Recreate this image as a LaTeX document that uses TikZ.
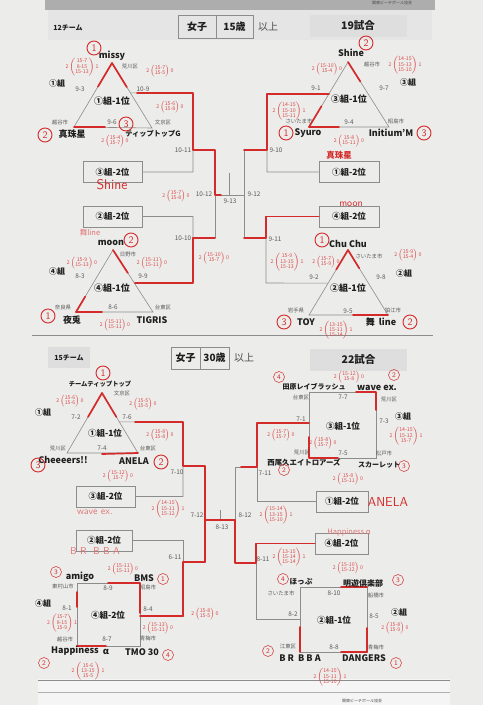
\documentclass[tikz,border=0pt]{standalone}
\usepackage{fontspec}
\setmainfont{Noto Sans CJK JP}
\usetikzlibrary{calc}
\definecolor{paper}{HTML}{ECECEA}
\definecolor{lnc}{HTML}{8C8C8C}
\definecolor{rd}{HTML}{D42A2A}
\definecolor{pk}{HTML}{E07474}
\definecolor{tx}{HTML}{1E1E1E}
\definecolor{cty}{HTML}{5A5A5A}
\newcounter{nn}
\newcommand\lbl[4][team]{\stepcounter{nn}\node[#1] (n\arabic{nn}) at (#2,#3) {#4};}
\newcommand\rcirc[4][rc]{\stepcounter{nn}\node[#1] (n\arabic{nn}) at (#2,#3) {#4};}
\newcommand\hscore[5]{\stepcounter{nn}\node[hw] (n\arabic{nn}) at (#1,#2) {#3\,$\left(\begin{tabular}{@{}c@{}}#4\end{tabular}\right)$\,#5};}
\begin{document}
\begin{tikzpicture}[x=1pt,y=-1pt,
  ln/.style={draw=lnc, line width=0.6pt},
  rl/.style={draw=rd, line width=1.7pt, line cap=round, line join=round},
  team/.style={font=\fontsize{9}{10}\selectfont\bfseries, text=tx, inner sep=0pt},
  teamj/.style={font=\fontsize{7.2}{8}\selectfont\bfseries, text=tx, inner sep=0pt},
  grp/.style={font=\fontsize{8}{9}\selectfont\bfseries, text=tx, inner sep=0pt},
  grpl/.style={font=\fontsize{9}{10}\selectfont\bfseries, text=tx, inner sep=0pt},
  city/.style={font=\fontsize{5.4}{6}\selectfont, text=cty, inner sep=0pt},
  mt/.style={font=\fontsize{6.4}{7}\selectfont, text=cty, inner sep=0pt},
  gb/.style={draw=lnc, line width=0.6pt, fill=paper, font=\fontsize{8.5}{9}\selectfont\bfseries, text=tx, minimum height=21pt, inner sep=0pt},
  hbox/.style={draw=lnc, line width=0.6pt, font=\fontsize{10}{11}\selectfont\bfseries, text=tx, minimum height=23pt, inner sep=0pt},
  gbox/.style={fill=black!13, font=\fontsize{10.5}{11}\selectfont\bfseries, text=tx, minimum height=22pt, inner sep=0pt},
  hw/.style={text=rd!85, font=\fontsize{5.2}{5.6}\selectfont, inner sep=0pt},
  rc/.style={circle, draw=rd, text=rd, line width=0.9pt, inner sep=0pt, minimum size=14pt, font=\sffamily\fontsize{10}{10}\selectfont},
  rcs/.style={circle, draw=rd, text=rd, line width=0.5pt, inner sep=0pt, minimum size=11pt, font=\sffamily\fontsize{7}{7}\selectfont},
  rtx/.style={text=rd, font=\sffamily\fontsize{12}{12}\selectfont, inner sep=0pt},
  ptx/.style={text=pk, font=\sffamily\fontsize{9}{9}\selectfont, inner sep=0pt}
]
\renewcommand\arraystretch{0.85}
\useasboundingbox (0,0) rectangle (483,705);
\fill[paper] (0,0) rectangle (483,705);
% clips (photo)
\fill[black!10] (48,10) rectangle (432,40);
\fill[black!32] (45,0) rectangle (435,10);
\fill[black!4] (38,679) rectangle (450,705);
\draw[black!45, line width=1pt] (38,680) -- (450,680);
\draw[black!30, line width=0.8pt] (38,692) -- (450,692);
\node[font=\fontsize{4}{4}\selectfont, text=black!70, inner sep=0pt] (clipb) at (362,701) {関東ビーチボール協会};
\node[font=\fontsize{4}{4}\selectfont, text=black!70, inner sep=0pt] (clipt) at (392,3) {関東ビーチボール協会};

%================ TOP : 女子 15歳 以上 =================
\lbl[grp]{68}{28}{\fontsize{7}{8}\selectfont 12チーム}
\node[hbox, minimum width=38pt] (h1) at (197,26.5) {女子};
\node[hbox, minimum width=37pt] (h2) at (234.5,26.5) {15歳};
\lbl[grpl]{268}{27}{\mdseries\fontsize{10}{11}\selectfont\color{black!70}以上}
\node[gbox, minimum width=97pt] (h3) at (358,26) {19試合};

% group 1 (top-left)
\coordinate (A1) at (112,63); \coordinate (B1) at (74,127); \coordinate (C1) at (152,128);
\draw[ln] (A1) -- (B1) -- (C1) -- cycle;
% group 4 (top-left lower)
\coordinate (A4) at (113,250); \coordinate (B4) at (76,312); \coordinate (C4) at (153,312);
\draw[ln] (A4) -- (B4) -- (C4) -- cycle;
% group 3 (top-right)
\coordinate (A3) at (348,62); \coordinate (B3) at (309,127); \coordinate (C3) at (389,127);
\draw[ln] (A3) -- (B3) -- (C3) -- cycle;
% group 2 (top-right lower)
\coordinate (A2) at (348,250); \coordinate (B2) at (309,315); \coordinate (C2) at (388,315);
\draw[ln] (A2) -- (B2) -- (C2) -- cycle;

\node[gb, minimum width=59pt] (t32) at (112.5,172) {③組-2位};
\node[gb, minimum width=59pt] (t22) at (112.5,216.5) {②組-2位};
\node[gb, minimum width=60pt] (t12) at (349,172) {①組-2位};
\node[gb, minimum width=60pt] (t42) at (349,216.5) {④組-2位};

% bracket lines top
\coordinate (p1) at ($(A1)!0.46!(C1)$);
\coordinate (p4) at ($(A4)!0.53!(C4)$);
\coordinate (p3) at ($(A3)!0.49!(B3)$);
\coordinate (p2) at ($(A2)!0.51!(B2)$);
\draw[ln] (p1) -- (193,93) -- (193,172) -- (t32.east);
\draw[ln] (193,150) -- (215,150);
\draw[ln] (p4) -- (193,283) -- (193,216.5) -- (t22.east);
\draw[ln] (193,238) -- (215,238);
\draw[ln] (215,150) -- (215,238);
\draw[ln] (215,195) -- (244,195);
\draw[ln] (229,173) -- (229,195);
\draw[ln] (244,150) -- (244,238);
\draw[ln] (244,150) -- (267,150);
\draw[ln] (p3) -- (267,94) -- (267,172) -- (t12.west);
\draw[ln] (244,238) -- (266,238);
\draw[ln] (t42.west) -- (266,216.5) -- (266,283) -- (p2);

% red top
\draw[rl] (137,93) -- (193,93) -- (193,150) -- (215,150) -- (215,195) -- (221,195);
\draw[rl] (135,283) -- (193,283) -- (193,238) -- (215,238);
\draw[rl] (329,94) -- (267,94) -- (267,150) -- (244,150);
\draw[rl] (t42.west) -- (266,216.5) -- (266,238) -- (244,238);
\draw[rl] (A1) -- ($(A1)!0.37!(B1)$);
\draw[rl] (A1) -- ($(A1)!0.37!(C1)$);
\draw[rl] (B1) -- (105,127);
\draw[rl] (A4) -- ($(A4)!0.37!(C4)$);
\draw[rl] (B4) -- ($(B4)!0.25!(A4)$);
\draw[rl] (B4) -- (102,312);
\draw[rl] (A3) -- ($(A3)!0.3!(C3)$);
\draw[rl] (B3) -- ($(B3)!0.32!(A3)$);
\draw[rl] (B3) -- (339,127);
\draw[rl] (A2) -- ($(A2)!0.3!(B2)$);
\draw[rl] (A2) -- ($(A2)!0.28!(C2)$);
\draw[rl] (353,315) -- (C2);

% labels top-left group 1
\lbl{112}{56}{missy}
\lbl[grpl]{112}{101}{①組-1位}
\lbl[grp]{57}{83}{①組}
\lbl[mt]{80}{89}{9-3}
\lbl[city]{130}{66}{荒川区}
\lbl[mt]{143}{89}{10-9}
\lbl[city]{60}{122}{越谷市}
\lbl[mt]{112}{122}{9-6}
\lbl[city]{163}{122}{文京区}
\lbl{72}{134}{真珠星}
\lbl[teamj]{153}{134}{ティップトップG}
\lbl[mt]{183}{150}{10-11}
% group 4
\lbl{111}{243}{moon}
\lbl[grpl]{112}{288}{④組-1位}
\lbl[grp]{57}{271}{④組}
\lbl[mt]{80}{276}{8-3}
\lbl[city]{128}{254}{日野市}
\lbl[mt]{143}{276}{9-9}
\lbl[city]{63}{307}{奈良県}
\lbl[mt]{113}{307}{8-6}
\lbl[city]{163}{307}{台東区}
\lbl{72}{320}{夜兎}
\lbl{152}{320}{TIGRIS}
\lbl[mt]{183}{238}{10-10}
\lbl[mt]{204}{194}{10-12}
\lbl[mt]{230}{201}{9-13}
\lbl[mt]{254}{194}{9-12}
\lbl[mt]{276}{150}{9-10}
\lbl[mt]{275}{239}{9-11}
% group 3
\lbl{351}{53}{Shine}
\lbl[city]{372}{64}{越谷市}
\lbl[mt]{316}{88}{9-1}
\lbl[mt]{384}{88}{9-7}
\lbl[grp]{408}{82}{③組}
\lbl[grpl]{349}{99}{③組-1位}
\lbl[city]{299}{121}{さいたま市}
\lbl[mt]{349}{122}{9-4}
\lbl[city]{396}{121}{昭島市}
\lbl{308}{133}{Syuro}
\lbl{391}{133}{Initium’M}
% group 2
\lbl{348}{244}{Chu Chu}
\lbl[city]{369}{256}{さいたま市}
\lbl[mt]{314}{277}{9-2}
\lbl[mt]{381}{277}{9-8}
\lbl[grp]{404}{273}{②組}
\lbl[grpl]{348}{288}{②組-1位}
\lbl[city]{296}{310}{岩手県}
\lbl[mt]{348}{311}{9-5}
\lbl[city]{393}{310}{狛江市}
\lbl{306}{322}{TOY}
\lbl{381}{322}{舞\ \ line}

% separator
\draw[ln] (32,335) -- (433,335);

%================ BOTTOM : 女子 30歳 以上 =================
\node[fill=black!13, minimum width=42pt, minimum height=21pt, inner sep=0pt, font=\fontsize{7}{8}\selectfont\bfseries, text=tx] (b0) at (69,357.5) {15チーム};
\node[hbox, minimum width=29pt, minimum height=22pt] (g1) at (185.5,358) {女子};
\node[hbox, minimum width=29pt, minimum height=22pt] (g2) at (214.5,358) {30歳};
\lbl[grpl]{244}{358}{\mdseries\fontsize{10}{11}\selectfont\color{black!70}以上}
\node[gbox, minimum width=97pt] (g3) at (358.5,360) {22試合};

% group 1 lower triangle
\coordinate (L1) at (102,393); \coordinate (L2) at (67,453); \coordinate (L3) at (138,453);
\draw[ln] (L1) -- (L2) -- (L3) -- cycle;
% squares
\draw[ln] (77,583) rectangle (140,646);   % group 4
\draw[ln] (309,392) rectangle (376,458);  % group 3
\draw[ln] (300,587) rectangle (367,652);  % group 2
\coordinate (S4r) at (140,616);
\coordinate (S3l) at (309,423);
\coordinate (S2l) at (300,619);

\node[gb, minimum width=59pt] (u32) at (105.5,496.5) {③組-2位};
\node[gb, minimum width=56pt] (u22) at (104,540.5) {②組-2位};
\node[gb, minimum width=52pt] (u12) at (342,501.5) {①組-2位};
\node[gb, minimum width=53pt] (u42) at (341.5,543.5) {④組-2位};

\coordinate (q1) at ($(L1)!0.48!(L3)$);
\draw[ln] (q1) -- (183,422) -- (183,496.5) -- (u32.east);
\draw[ln] (183,466) -- (205,466) -- (205,562);
\draw[ln] (u22.east) -- (183,540.5) -- (183,616) -- (S4r);
\draw[ln] (183,562) -- (205,562);
\draw[ln] (205,520) -- (235,520);
\draw[ln] (220,510) -- (220,520);
\draw[ln] (235,467) -- (235,563);
\draw[ln] (235,467) -- (257,467);
\draw[ln] (S3l) -- (257,423) -- (257,501.5) -- (u12.west);
\draw[ln] (235,563) -- (256,563);
\draw[ln] (u42.west) -- (256,543.5) -- (256,619) -- (S2l);

% red bottom
\draw[rl] (135,422) -- (183,422) -- (183,466) -- (205,466) -- (205,562);
\draw[rl] (S4r) -- (183,616) -- (183,562) -- (205,562);
\draw[rl] (205,520) -- (235,520) -- (235,563) -- (256,563) -- (256,543.5) -- (u42.west);
\draw[rl] (S3l) -- (257,423) -- (257,467) -- (241,467);
\draw[rl] (L1) -- ($(L1)!0.4!(L2)$);
\draw[rl] (L1) -- ($(L1)!0.4!(L3)$);
\draw[rl] (102,454) -- (L3);
\draw[rl] (108,583) -- (140,583) -- (140,613);
\draw[rl] (77,592) -- (77,607);
\draw[rl] (77,646) -- (106,646);
\draw[rl] (356,392) -- (376,392) -- (376,410);
\draw[rl] (309,437) -- (309,458) -- (338,458);
\draw[rl] (341,587) -- (367,587);
\draw[rl] (300,627) -- (300,652);
\draw[rl] (341,652) -- (367,652) -- (367,628);

% labels group 1 lower
\lbl[teamj]{100}{384}{\fontsize{6.3}{7}\selectfont チームティップトップ}
\lbl[city]{122}{393}{文京区}
\lbl[grp]{43}{412}{①組}
\lbl[mt]{76}{417}{7-2}
\lbl[mt]{127}{417}{7-6}
\lbl[grpl]{105}{433}{\fontsize{8.5}{9}\selectfont ①組-1位}
\lbl[city]{58}{448}{荒川区}
\lbl[mt]{102}{448}{7-4}
\lbl[city]{148}{448}{台東区}
\lbl{63}{460}{Cheeeers!!}
\lbl{134}{461}{ANELA}
\lbl[mt]{177}{472}{7-10}
\lbl[mt]{197}{515}{7-12}
\lbl[mt]{222}{527}{8-13}
\lbl[mt]{245}{515}{8-12}
\lbl[mt]{175}{557}{6-11}
% group 4 lower
\lbl{80}{577}{amigo}
\lbl{144}{578}{BMS}
\lbl[city]{63}{586}{東村山市}
\lbl[mt]{108}{588}{8-9}
\lbl[city]{148}{587}{昭島市}
\lbl[grp]{43}{603}{④組}
\lbl[mt]{67}{608}{8-1}
\lbl[grpl]{108}{615}{\fontsize{8.5}{9}\selectfont ④組-2位}
\lbl[mt]{148}{609}{8-4}
\lbl[city]{65}{639}{越谷市}
\lbl[mt]{107}{639}{8-7}
\lbl[city]{148}{638}{青梅市}
\lbl{75}{651}{Happiness}
\lbl{106}{652}{α}
\lbl{142}{652}{TMO 30}
% group 3 lower
\lbl[teamj]{314}{387}{\fontsize{7}{8}\selectfont 田原レイブラッシュ}
\lbl{377}{388}{wave ex.}
\lbl[city]{301}{397}{台東区}
\lbl[mt]{343}{397}{7-7}
\lbl[city]{389}{399}{荒川区}
\lbl[mt]{301}{419}{7-1}
\lbl[grpl]{343}{426}{\fontsize{8.5}{9}\selectfont ③組-1位}
\lbl[mt]{384}{421}{7-3}
\lbl[grp]{403}{416}{③組}
\lbl[city]{302}{452}{荒川区}
\lbl[mt]{343}{453}{7-5}
\lbl[city]{384}{453}{松戸市}
\lbl[teamj]{304}{463}{\fontsize{7.4}{8}\selectfont 西尾久エイトロアーズ}
\lbl[teamj]{379}{465}{\fontsize{7}{8}\selectfont スカーレット}
\lbl[mt]{265}{473}{7-11}
\lbl[mt]{263}{559}{8-11}
% group 2 lower
\lbl[teamj]{301}{582}{\fontsize{7.6}{8}\selectfont ほっぷ}
\lbl[teamj]{363}{583}{\fontsize{8}{9}\selectfont 明遊倶楽部}
\lbl[city]{281}{593}{さいたま市}
\lbl[mt]{334}{593}{8-10}
\lbl[city]{376}{595}{船橋市}
\lbl[mt]{293}{614}{8-2}
\lbl[grpl]{334}{620}{\fontsize{8.5}{9}\selectfont ②組-1位}
\lbl[mt]{374}{616}{8-5}
\lbl[grp]{399}{612}{②組}
\lbl[city]{288}{646}{江東区}
\lbl[mt]{334}{647}{8-8}
\lbl[city]{376}{647}{青梅市}
\lbl{300}{658}{B R\ \ B B A}
\lbl{364}{658}{DANGERS}

%================ red annotations =================
\rcirc{94}{48}{1}
\rcirc{45}{135}{2}
\rcirc{126}{124}{3}
\rcirc{131}{240}{2}
\rcirc{48}{316}{1}
\rcirc{366}{43}{2}
\rcirc{286}{133}{1}
\rcirc{424}{133}{3}
\rcirc{322}{240}{1}
\rcirc{284}{322}{3}
\rcirc{410}{322}{2}
\rcirc{103}{373}{1}
\rcirc{38}{465}{3}
\rcirc{161}{462}{2}
\rcirc[rcs]{279}{377}{4}
\rcirc[rcs]{394}{375}{2}
\rcirc[rcs]{284}{470}{2}
\rcirc[rcs]{404}{466}{3}
\rcirc[rcs]{56}{572}{3}
\rcirc[rcs]{163}{579}{1}
\rcirc[rcs]{44}{663}{2}
\rcirc[rcs]{168}{655}{4}
\rcirc[rcs]{283}{579}{4}
\rcirc[rcs]{398}{580}{3}
\rcirc[rcs]{268}{651}{2}
\rcirc[rcs]{396}{663}{1}

\lbl[rtx]{112}{185}{\fontsize{14}{14}\selectfont Shine}
\lbl[ptx]{90}{233}{\rmfamily\fontsize{7.5}{8}\selectfont 舞line}
\lbl[rtx]{339}{155}{\rmfamily\bfseries\fontsize{8.5}{9}\selectfont 真珠星}
\lbl[rtx]{351}{204}{\fontsize{10}{10}\selectfont moon}
\lbl[ptx]{95}{512}{\fontsize{10}{10}\selectfont wave ex.}
\lbl[ptx]{95}{551}{\fontsize{10}{10}\selectfont B R\ \ B B A}
\lbl[rtx]{388}{502}{\fontsize{13}{13}\selectfont ANELA}
\lbl[ptx]{349}{532}{\rmfamily\fontsize{7.5}{8}\selectfont Happiness α}

% handwritten scores
\hscore{82}{67}{2}{15-7\\8-15\\15-13}{1}
\hscore{160}{71}{2}{15-7\\15-5}{0}
\hscore{170}{107}{2}{15-6\\15-8}{0}
\hscore{115}{141}{2}{15-4\\15-7}{0}
\hscore{176}{196}{2}{15-7\\15-8}{0}
\hscore{82}{263}{2}{15-9\\15-13}{0}
\hscore{152}{263}{2}{15-11\\15-11}{0}
\hscore{214}{258}{2}{15-10\\15-7}{0}
\hscore{115}{325}{2}{15-11\\15-11}{0}
\hscore{327}{69}{2}{15-10\\15-4}{0}
\hscore{405}{65}{2}{14-15\\15-13\\15-10}{1}
\hscore{289}{111}{2}{14-15\\15-10\\15-11}{1}
\hscore{349}{141}{2}{15-8\\15-11}{0}
\hscore{287}{262}{2}{15-9\\13-15\\15-13}{1}
\hscore{326}{262}{2}{15-7\\15-9}{0}
\hscore{408}{255}{2}{15-9\\15-4}{0}
\hscore{336}{330}{2}{13-15\\15-11\\15-14}{1}
\hscore{70}{401}{2}{15-6\\15-6}{0}
\hscore{143}{404}{2}{15-5\\15-5}{0}
\hscore{160}{435}{2}{15-8\\15-8}{0}
\hscore{118}{476}{2}{15-12\\15-7}{0}
\hscore{168}{509}{2}{14-15\\15-11\\15-12}{1}
\hscore{349}{377}{2}{15-12\\15-8}{0}
\hscore{281}{435}{2}{15-7\\15-7}{0}
\hscore{323}{443}{2}{15-8\\15-7}{0}
\hscore{406}{436}{2}{14-15\\15-12\\15-7}{1}
\hscore{348}{479}{2}{15-8\\15-11}{0}
\hscore{276}{515}{2}{15-14\\13-15\\15-10}{1}
\hscore{289}{557}{2}{13-15\\15-14\\15-14}{1}
\hscore{348}{568}{2}{15-10\\15-12}{0}
\hscore{395}{628}{2}{15-8\\15-9}{0}
\hscore{330}{677}{2}{14-15\\15-11\\15-10}{1}
\hscore{123}{569}{2}{15-11\\15-11}{0}
\hscore{62}{623}{2}{15-7\\8-15\\15-9}{1}
\hscore{158}{628}{2}{15-13\\15-11}{0}
\hscore{205}{614}{2}{15-8\\15-5}{0}
\hscore{88}{671}{2}{15-6\\13-15\\15-5}{1}
\end{tikzpicture}
\end{document}
